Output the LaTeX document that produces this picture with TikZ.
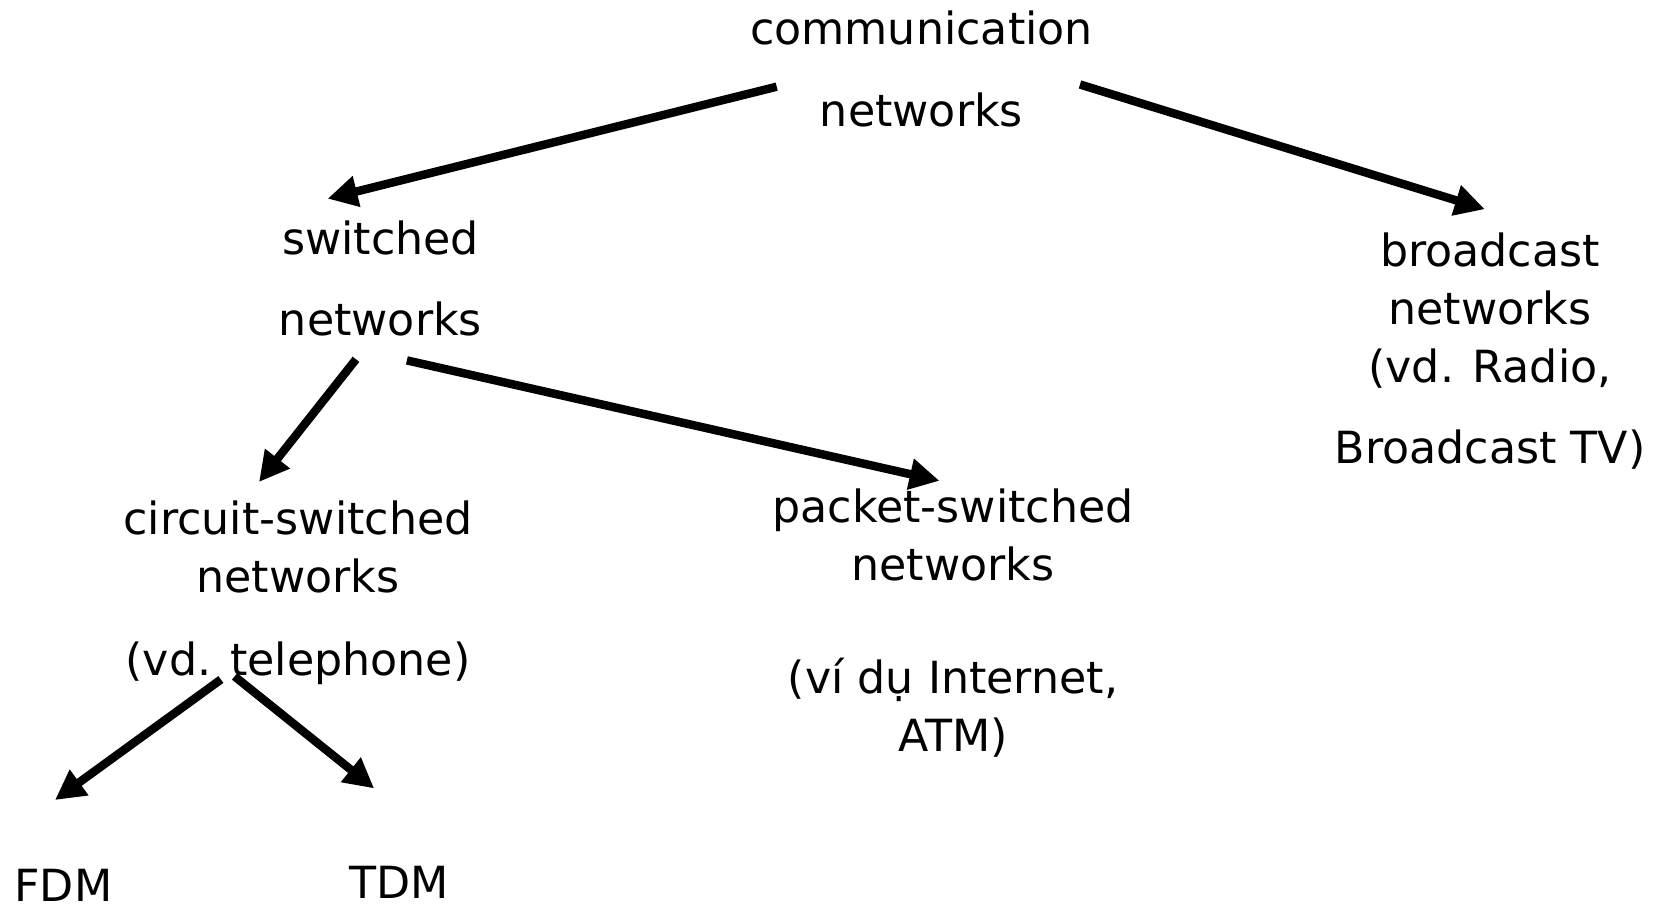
\documentclass[tikz,border=0pt]{standalone}
\usepackage{fontspec}
\setmainfont{DejaVu Sans}
\usetikzlibrary{arrows.meta,calc}

\begin{document}
\begin{tikzpicture}[x=0.01cm,y=-0.01cm,
  txt/.style={align=center,inner sep=0pt,font=\fontsize{12.6}{16.5}\selectfont},
  arr/.style={line width=2.4pt,-{Triangle[length=8.5pt,width=8.5pt]}}]

\useasboundingbox (0,0) rectangle (1657,910);

\node[txt] (comm) at (921.5,69) {communication\\[6.7pt]networks};
\node[txt] (switched) at (380.5,278.5) {switched\\[6.7pt]networks};
\node[txt] (broadcast) at (1490,351) {broadcast\\networks\\(vd. Radio,\\[6.5pt]Broadcast TV)};
\node[txt] (circuit) at (298,593) {circuit-switched\\networks\\[7pt](vd. telephone)};
\node[txt] (packet) at (953,623) {packet-switched\\networks\\[15.4pt](ví dụ Internet,\\ATM)};
\node[txt] (fdm) at (63.4,885.6) {FDM};
\node[txt] (tdm) at (399.5,882.4) {TDM};

\draw[arr] ($(comm)+(-144.8,17.7)$) -- ($(switched)+(-52.9,-79.8)$);
\draw[arr] ($(comm)+(158.5,15.5)$) -- ($(broadcast)+(-5.2,-141.8)$);
\draw[arr] ($(switched)+(-24.5,80.8)$) -- ($(circuit)+(-39,-111)$);
\draw[arr] ($(switched)+(26.4,81.9)$) -- ($(packet)+(-13.5,-142.2)$);
\draw[arr] ($(circuit)+(-77.1,86.5)$) -- ($(fdm)+(-8.4,-85.6)$);
\draw[arr] ($(circuit)+(-63.4,83.4)$) -- ($(tdm)+(-25.4,-94)$);

\end{tikzpicture}
\end{document}
